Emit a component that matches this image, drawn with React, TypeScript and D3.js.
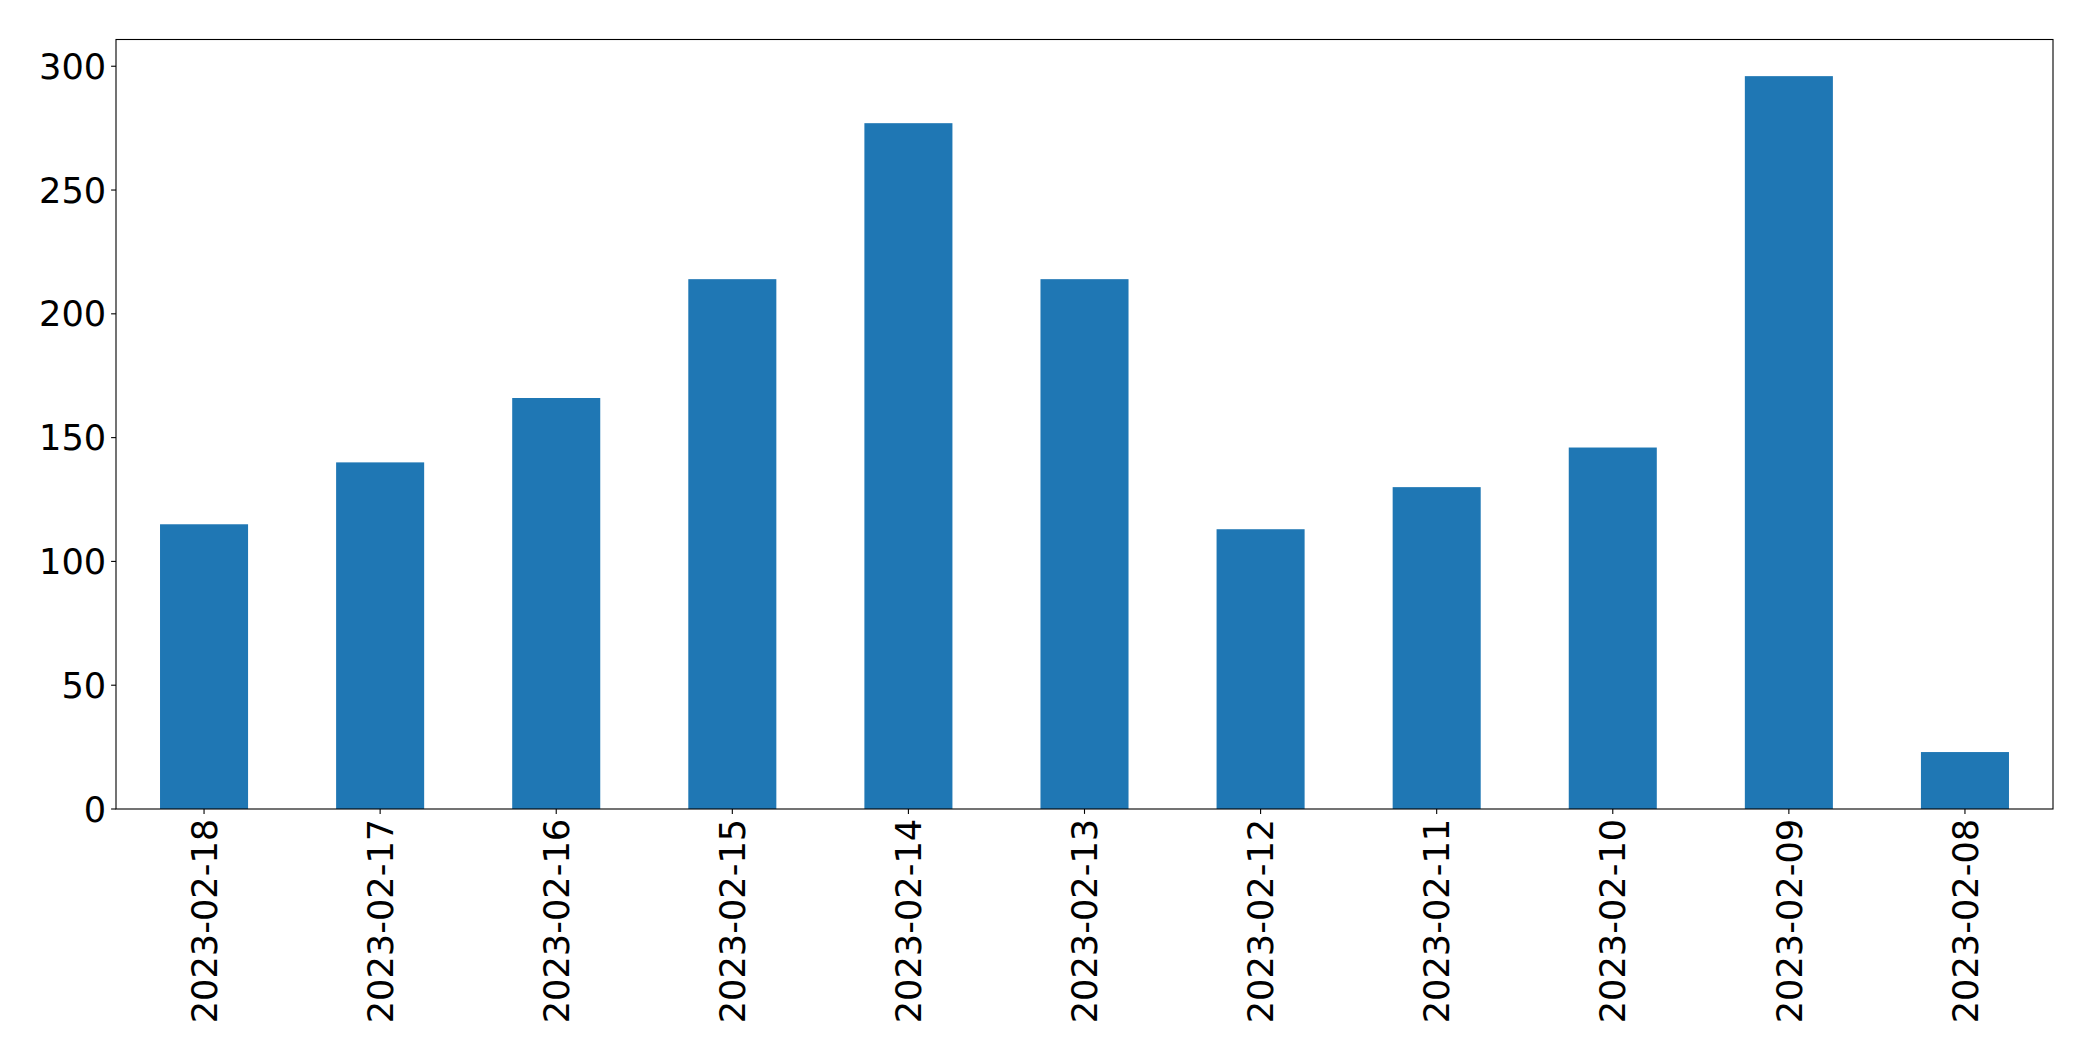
import React from "react";
import * as d3 from "d3";

const categories = [
  "2023-02-18", "2023-02-17", "2023-02-16", "2023-02-15", "2023-02-14", "2023-02-13",
  "2023-02-12", "2023-02-11", "2023-02-10", "2023-02-09", "2023-02-08",
];
const values = [115, 140, 166, 214, 277, 214, 113, 130, 146, 296, 23];
const yTicks = [0, 50, 100, 150, 200, 250, 300];

const W = 2093;
const H = 1061;
const margin = { left: 116, right: W - 2053, top: 39.5, bottom: H - 809 };

export default function App() {
  const x0 = margin.left;
  const x1 = W - margin.right;
  const y0 = H - margin.bottom;
  const y1 = margin.top;
  const yMax = d3.max(values)! * 1.05;
  const y = d3.scaleLinear().domain([0, yMax]).range([y0, y1]);
  const xc = d3.scaleLinear().domain([-0.5, categories.length - 0.5]).range([x0, x1]);
  const bw = xc(0.25) - xc(-0.25);
  const font = "'DejaVu Sans', sans-serif";
  const fs = 35.2;
  const tickLen = 4.9;
  return (
    <svg width={W} height={H} style={{ position: "absolute", left: 0, top: 0, background: "#fff" }}>
      <rect x={0} y={0} width={W} height={H} fill="#fff" />
      {values.map((v, i) => (
        <rect key={i} x={xc(i) - bw / 2} y={y(v)} width={bw} height={y0 - y(v)} fill="#1f77b4" />
      ))}
      <rect x={x0} y={y1} width={x1 - x0} height={y0 - y1} fill="none" stroke="#000" strokeWidth={1.1} />
      {yTicks.map((t) => (
        <g key={t}>
          <line x1={x0 - tickLen} x2={x0} y1={y(t)} y2={y(t)} stroke="#000" strokeWidth={1.1} />
          <text x={x0 - tickLen - 4.9} y={y(t)} dy="0.36em" textAnchor="end" fontFamily={font} fontSize={fs} fill="#000">
            {t}
          </text>
        </g>
      ))}
      {categories.map((c, i) => (
        <g key={c}>
          <line x1={xc(i)} x2={xc(i)} y1={y0} y2={y0 + tickLen} stroke="#000" strokeWidth={1.1} />
          <text
            transform={`translate(${xc(i)},${y0 + tickLen + 4.9}) rotate(-90)`}
            dy="0.36em"
            textAnchor="end"
            fontFamily={font}
            fontSize={fs}
            fill="#000"
          >
            {c}
          </text>
        </g>
      ))}
    </svg>
  );
}
